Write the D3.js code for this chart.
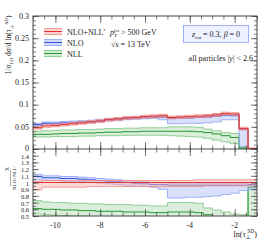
<!DOCTYPE html>
<html>
<head>
<meta charset="utf-8">
<script src="https://cdn.jsdelivr.net/npm/d3@7"></script>
<style>
  body { margin: 0; background: #fff; }
  svg text { font-family: "Liberation Serif", "DejaVu Serif", serif; fill: #222; }
  .axis path { display: none; }
  .axis line { stroke: #444; stroke-width: 0.7; }
</style>
</head>
<body>
<div id="chart"></div>
<script>
// bin edges of ln(tau_perp^SD)
const edges = [-11, -10.6, -10.2, -9.8, -9.4, -9, -8.6, -8.2, -7.8, -7.4, -7, -6.6, -6.2, -5.8, -5.4,
  -5, -4.6, -4.2, -3.8, -3.4, -3, -2.6, -2.2, -1.8, -1.4, -1];

// upper panel: 1/sigma_LO dsigma/dln(tau)
const nnllMid = [0.048,0.052,0.053,0.055,0.057,0.059,0.061,0.063,0.066,0.068,0.070,0.071,0.073,0.074,0.075,0.071,0.072,0.073,0.074,0.075,0.077,0.080,0.079,0.046,0.001];
const nnllLo  = [0.045,0.049,0.050,0.052,0.054,0.056,0.058,0.060,0.063,0.065,0.067,0.068,0.070,0.071,0.072,0.068,0.069,0.070,0.071,0.072,0.074,0.077,0.076,0.043,0.000];
const nnllHi  = [0.051,0.055,0.056,0.058,0.060,0.062,0.064,0.066,0.069,0.071,0.073,0.074,0.076,0.077,0.078,0.074,0.075,0.076,0.077,0.078,0.080,0.083,0.082,0.049,0.002];

const nloMid = [0.055,0.058,0.058,0.059,0.060,0.061,0.062,0.064,0.066,0.067,0.069,0.070,0.071,0.072,0.072,0.069,0.070,0.070,0.071,0.072,0.074,0.076,0.075,0.044,0.001];
const nloLo  = [0.052,0.055,0.055,0.056,0.057,0.058,0.059,0.061,0.063,0.064,0.066,0.067,0.068,0.069,0.066,0.057,0.057,0.058,0.058,0.059,0.061,0.066,0.066,0.006,0.000];
const nloHi  = [0.058,0.061,0.061,0.062,0.063,0.064,0.065,0.067,0.069,0.070,0.072,0.073,0.074,0.075,0.075,0.072,0.073,0.073,0.074,0.075,0.077,0.079,0.078,0.047,0.002];

const nllMid = [0.033,0.033,0.034,0.035,0.035,0.036,0.036,0.037,0.038,0.038,0.039,0.039,0.040,0.040,0.040,0.040,0.040,0.040,0.039,0.037,0.034,0.030,0.026,0.002,0.000];
const nllLo  = [0.027,0.027,0.028,0.028,0.028,0.029,0.029,0.030,0.030,0.030,0.031,0.031,0.031,0.031,0.031,0.030,0.029,0.028,0.027,0.024,0.020,0.016,0.012,0.000,0.000];
const nllHi  = [0.040,0.041,0.042,0.043,0.043,0.044,0.044,0.045,0.046,0.046,0.047,0.047,0.048,0.048,0.048,0.050,0.050,0.050,0.049,0.045,0.041,0.037,0.035,0.004,0.001];

// lower panel: ratio to NLO+NLL'
const rNnllMid = [1,1,1,1,1,1,1,1,1,1,1,1,1,1,1,1,1,1,1,1,1,1,1,1,1];
const rNnllLo  = [0.89,0.93,0.93,0.93,0.93,0.93,0.94,0.94,0.94,0.94,0.94,0.94,0.94,0.94,0.94,0.94,0.94,0.94,0.94,0.95,0.95,0.95,0.95,0.95,0.95];
const rNnllHi  = [1.02,1.03,1.03,1.03,1.03,1.03,1.03,1.03,1.03,1.03,1.03,1.03,1.03,1.03,1.03,1.03,1.03,1.03,1.04,1.04,1.04,1.04,1.04,1.04,1.04];

const rNloMid = [1.09,1.07,1.07,1.06,1.06,1.05,1.04,1.03,1.02,1.01,1.00,0.99,0.98,0.97,0.97,0.96,0.96,0.96,0.96,0.96,0.96,0.96,0.96,0.96,0.97];
const rNloLo  = [1.04,1.03,1.03,1.02,1.02,1.01,1.00,0.99,0.98,0.97,0.96,0.95,0.94,0.93,0.90,0.77,0.77,0.78,0.78,0.79,0.80,0.82,0.84,0.88,0.90];
const rNloHi  = [1.12,1.10,1.10,1.09,1.09,1.08,1.07,1.06,1.05,1.04,1.03,1.02,1.01,1.00,1.00,0.99,0.99,0.99,0.99,0.99,0.99,0.99,0.99,0.99,1.00];

const rNllMid = [0.61,0.60,0.60,0.59,0.59,0.58,0.58,0.57,0.57,0.57,0.56,0.56,0.56,0.55,0.55,0.56,0.56,0.56,0.55,0.52,0.49,0.45,0.41,0.40,0.93];
const rNllLo  = [0.53,0.52,0.51,0.51,0.50,0.50,0.49,0.49,0.48,0.48,0.47,0.47,0.46,0.45,0.44,0.43,0.42,0.41,0.40,0.38,0.36,0.33,0.30,0.28,0.40];
const rNllHi  = [0.73,0.71,0.70,0.70,0.69,0.69,0.68,0.68,0.67,0.67,0.67,0.66,0.66,0.65,0.65,0.70,0.70,0.70,0.69,0.62,0.59,0.56,0.53,0.52,0.95];

const xTicks = [-10, -8, -6, -4, -2];
const topTicks = [0, 0.05, 0.1, 0.15, 0.2, 0.25, 0.3];
const ratioTicks = [0.5, 0.6, 0.7, 0.8, 0.9, 1, 1.1, 1.2, 1.3, 1.4];

const width = 266, height = 240;
const pL = 33, pR = 257, pT = 16, pM = 149, pB = 216;

const colors = {
  red:   { line: "#e3342f", edge: "#f08a85", fill: "#f6b3b0" },
  blue:  { line: "#3454e0", edge: "#8aa0f2", fill: "#b3c2f7" },
  green: { line: "#20992e", edge: "#78c47f", fill: "#b7deb9" }
};

const x = d3.scaleLinear().domain([-11, -1]).range([pL, pR]);
const yTop = d3.scaleLinear().domain([0, 0.3]).range([pM, pT]);
const yBot = d3.scaleLinear().domain([0.5, 1.5]).range([pB, pM]);

const svg = d3.select("#chart").append("svg")
  .attr("width", width)
  .attr("height", height);

const defs = svg.append("defs");
defs.append("clipPath").attr("id", "clipBot")
  .append("rect").attr("x", pL).attr("y", pM).attr("width", pR - pL).attr("height", pB - pM);
defs.append("clipPath").attr("id", "clipTop")
  .append("rect").attr("x", pL).attr("y", pT).attr("width", pR - pL).attr("height", pM - pT);

function stepPoints(vals) {
  const pts = vals.map((v, i) => [edges[i], v]);
  pts.push([edges[vals.length], vals[vals.length - 1]]);
  return pts;
}

function drawSeries(g, y, lo, midv, hi, c) {
  const area = d3.area().curve(d3.curveStepAfter)
    .x((d, i) => x(edges[i]))
    .y0(d => y(d[0])).y1(d => y(d[1]));
  const band = lo.map((v, i) => [v, hi[i]]);
  band.push(band[band.length - 1]);
  g.append("path").attr("d", area(band))
    .attr("fill", c.fill).attr("fill-opacity", 0.5).attr("stroke", "none");
  const line = d3.line().curve(d3.curveStepAfter).x(d => x(d[0])).y(d => y(d[1]));
  [lo, hi].forEach(arr => {
    g.append("path").attr("d", line(stepPoints(arr)))
      .attr("fill", "none").attr("stroke", c.edge).attr("stroke-width", 0.8);
  });
  g.append("path").attr("d", line(stepPoints(midv)))
    .attr("fill", "none").attr("stroke", c.line).attr("stroke-width", 1);
}

// upper panel
const gTop = svg.append("g").attr("clip-path", "url(#clipTop)");
drawSeries(gTop, yTop, nllLo, nllMid, nllHi, colors.green);
drawSeries(gTop, yTop, nloLo, nloMid, nloHi, colors.blue);
drawSeries(gTop, yTop, nnllLo, nnllMid, nnllHi, colors.red);

// lower panel
const gBot = svg.append("g").attr("clip-path", "url(#clipBot)");
drawSeries(gBot, yBot, rNllLo, rNllMid, rNllHi, colors.green);
drawSeries(gBot, yBot, rNloLo, rNloMid, rNloHi, colors.blue);
drawSeries(gBot, yBot, rNnllLo, rNnllMid, rNnllHi, colors.red);

// ticks (inward, on all sides)
const minorX = d3.range(-11, -0.99, 0.5);
function xTickAxes(yPos, dir) {
  const mk = dir === "down" ? d3.axisBottom : d3.axisTop;
  svg.append("g").attr("class", "axis").attr("transform", `translate(0,${yPos})`)
    .call(mk(x).tickValues(minorX).tickSize(-3.5).tickFormat(""));
  svg.append("g").attr("class", "axis").attr("transform", `translate(0,${yPos})`)
    .call(mk(x).tickValues(xTicks).tickSize(-7).tickFormat(""));
}
xTickAxes(pT, "up");
xTickAxes(pM, "down");
xTickAxes(pM, "up");
xTickAxes(pB, "down");

function yTickAxes(y, minor, major) {
  [[pL, d3.axisLeft], [pR, d3.axisRight]].forEach(([xp, mk]) => {
    svg.append("g").attr("class", "axis").attr("transform", `translate(${xp},0)`)
      .call(mk(y).tickValues(minor).tickSize(-3).tickFormat(""));
    svg.append("g").attr("class", "axis").attr("transform", `translate(${xp},0)`)
      .call(mk(y).tickValues(major).tickSize(-6).tickFormat(""));
  });
}
yTickAxes(yTop, d3.range(0, 0.3001, 0.01), topTicks);
yTickAxes(yBot, d3.range(0.5, 1.5001, 0.05), ratioTicks);

// frames
svg.append("rect").attr("x", pL).attr("y", pT).attr("width", pR - pL).attr("height", pB - pT)
  .attr("fill", "none").attr("stroke", "#333").attr("stroke-width", 0.9);
svg.append("line").attr("x1", pL).attr("x2", pR).attr("y1", pM).attr("y2", pM)
  .attr("stroke", "#333").attr("stroke-width", 0.9);

// tick labels
svg.append("g").selectAll("text").data(topTicks).join("text")
  .attr("x", pL - 4).attr("y", d => yTop(d) + (d === 0 ? 1.6 : 2.8))
  .attr("text-anchor", "end").attr("font-size", 8)
  .text(d => d === 0 ? "0" : String(+d.toFixed(2)));
svg.append("g").selectAll("text").data(ratioTicks).join("text")
  .attr("x", pL - 4).attr("y", d => yBot(d) + 3)
  .attr("text-anchor", "end").attr("font-size", 6.5)
  .text(d => d3.format(".1f")(d).replace(/\.0$/, ""));
svg.append("g").selectAll("text").data(xTicks).join("text")
  .attr("x", d => x(d)).attr("y", 228)
  .attr("text-anchor", "middle").attr("font-size", 8)
  .text(d => "-" + Math.abs(d));

// axis titles
const yl = svg.append("text").attr("transform", "translate(11,45) rotate(-90)")
  .attr("text-anchor", "middle").attr("font-size", 7.5);
yl.append("tspan").text("1/σ");
yl.append("tspan").attr("font-size", 5).attr("dy", 1.5).text("LO");
yl.append("tspan").attr("dy", -1.5).text(" dσ/d ln(τ");
yl.append("tspan").attr("font-size", 5).attr("dy", 1.5).text("⊥");
yl.append("tspan").attr("font-size", 5).attr("dy", -5).text("SD");
yl.append("tspan").attr("dy", 3.5).text(")");

svg.append("text").attr("transform", "translate(9,169) rotate(-90)")
  .attr("text-anchor", "middle").attr("font-size", 5.5).text("X");
svg.append("line").attr("x1", 10.5).attr("x2", 10.5).attr("y1", 170).attr("y2", 186)
  .attr("stroke", "#333").attr("stroke-width", 0.4);
svg.append("text").attr("transform", "translate(15.5,178) rotate(-90)")
  .attr("text-anchor", "middle").attr("font-size", 5).text("NLO+NLL′");

const xl = svg.append("text").attr("x", pR).attr("y", 237)
  .attr("text-anchor", "end").attr("font-size", 8);
xl.append("tspan").text("ln(τ");
xl.append("tspan").attr("font-size", 5.5).attr("dy", 1.5).text("⊥");
xl.append("tspan").attr("font-size", 5.5).attr("dy", -5.5).attr("dx", -3.5).text("SD");
xl.append("tspan").attr("dy", 4).text(")");

// legend
const legendNames = ["NLO+NLL′", "NLO", "NLL"];
const legendColors = [colors.red, colors.blue, colors.green];
const legendY = [31.5, 42.5, 53.5];
legendNames.forEach((name, i) => {
  const c = legendColors[i], cy = legendY[i];
  svg.append("rect").attr("x", 44).attr("y", cy - 3).attr("width", 18).attr("height", 6)
    .attr("fill", c.fill).attr("fill-opacity", 0.6);
  [-3, 3].forEach(o => svg.append("line").attr("x1", 44).attr("x2", 62).attr("y1", cy + o).attr("y2", cy + o)
    .attr("stroke", c.edge).attr("stroke-width", 0.8));
  svg.append("line").attr("x1", 44).attr("x2", 62).attr("y1", cy).attr("y2", cy)
    .attr("stroke", c.line).attr("stroke-width", 1);
  svg.append("text").attr("x", 67).attr("y", cy + 3).attr("font-size", 8).text(name);
});

// annotations
const pt = svg.append("text").attr("x", 110).attr("y", 35).attr("font-size", 8);
pt.append("tspan").attr("font-style", "italic").text("p");
pt.append("tspan").attr("font-size", 5).attr("dy", 1.5).text("T");
pt.append("tspan").attr("font-size", 5).attr("dy", -5).attr("dx", -3).text("jet");
pt.append("tspan").attr("dy", 3.5).text(" > 500 GeV");

const rs = svg.append("text").attr("x", 111).attr("y", 47).attr("font-size", 8);
rs.append("tspan").text("√");
rs.append("tspan").attr("font-style", "italic").text("s");
rs.append("tspan").text(" = 13 TeV");

svg.append("rect").attr("x", 183.5).attr("y", 25.5).attr("width", 65).attr("height", 17)
  .attr("fill", "#eef1ff").attr("stroke", "#8a9ff0").attr("stroke-width", 0.8);
const zc = svg.append("text").attr("x", 216).attr("y", 37).attr("text-anchor", "middle").attr("font-size", 8);
zc.append("tspan").attr("font-style", "italic").text("z");
zc.append("tspan").attr("font-size", 5).attr("dy", 1.5).text("cut");
zc.append("tspan").attr("dy", -1.5).text(" = 0.3, ");
zc.append("tspan").attr("font-style", "italic").text("β");
zc.append("tspan").text(" = 0");

const ap = svg.append("text").attr("x", 253).attr("y", 61).attr("text-anchor", "end").attr("font-size", 8);
ap.append("tspan").text("all particles |");
ap.append("tspan").attr("font-style", "italic").text("y");
ap.append("tspan").text("| < 2.6");
</script>
</body>
</html>
